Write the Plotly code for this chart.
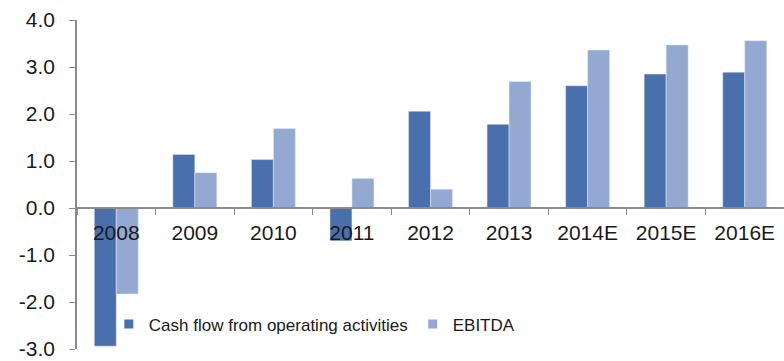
import plotly.graph_objects as go

categories = ["2008", "2009", "2010", "2011", "2012", "2013", "2014E", "2015E", "2016E"]
cash_flow = [-2.94, 1.14, 1.03, -0.70, 2.06, 1.78, 2.60, 2.85, 2.89]
ebitda = [-1.83, 0.75, 1.69, 0.63, 0.40, 2.69, 3.36, 3.47, 3.56]
y_ticks = [-3, -2, -1, 0, 1, 2, 3, 4]
y_tick_labels = ["-3.0", "-2.0", "-1.0", "0.0", "1.0", "2.0", "3.0", "4.0"]
y_range = [-3, 4]

dark = "#4A6FAD"
light = "#93A9D2"
axis_col = "#8a8a8a"
font_fam = "Liberation Sans, Arial, sans-serif"

fig = go.Figure()
fig.add_trace(go.Bar(x=categories, y=cash_flow, marker_color=dark, showlegend=False,
                     name="Cash flow from operating activities"))
fig.add_trace(go.Bar(x=categories, y=ebitda, marker_color=light, showlegend=False,
                     name="EBITDA"))
# legend-only entries with square symbols
fig.add_trace(go.Scatter(x=[None], y=[None], mode="markers",
                         marker=dict(symbol="square", size=9, color=dark),
                         name="Cash flow from operating activities"))
fig.add_trace(go.Scatter(x=[None], y=[None], mode="markers",
                         marker=dict(symbol="square", size=9, color=light),
                         name="EBITDA"))

zero_pos = (0 - y_range[0]) / (y_range[1] - y_range[0])

fig.update_layout(
    width=784, height=361,
    margin=dict(l=77, r=0, t=20, b=12),
    paper_bgcolor="white", plot_bgcolor="white",
    barmode="group", bargap=0.44, bargroupgap=0,
    font=dict(family=font_fam, color="#1a1a1a"),
    xaxis=dict(
        type="category", anchor="free", position=zero_pos,
        showline=True, linecolor=axis_col, linewidth=1.5,
        ticks="outside", tickson="boundaries", ticklen=6, tickcolor=axis_col,
        tickfont=dict(size=21, color="#1a1a1a"), showgrid=False, zeroline=False,
        ticklabelstandoff=6,
        range=[-0.5, len(categories) - 0.5],
    ),
    yaxis=dict(
        range=y_range, tickvals=y_ticks, ticktext=y_tick_labels,
        showline=True, linecolor=axis_col, linewidth=1.5,
        ticks="outside", ticklen=6, tickcolor=axis_col,
        tickfont=dict(size=21, color="#1a1a1a"), showgrid=False, zeroline=False,
        ticklabelstandoff=10,
    ),
    legend=dict(
        orientation="h", x=0.045, xanchor="left", y=0.075, yanchor="middle",
        font=dict(size=17, color="#1a1a1a"), bgcolor="rgba(0,0,0,0)",
        itemwidth=30, traceorder="normal",
    ),
)

fig.write_html("out.html")
